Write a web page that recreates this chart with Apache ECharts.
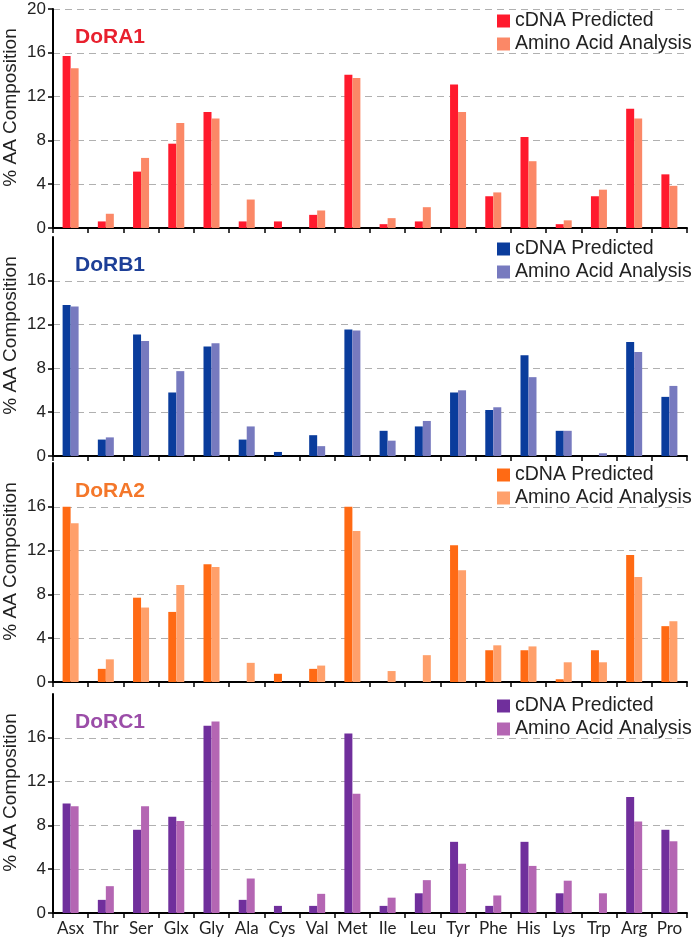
<!DOCTYPE html>
<html>
<head>
<meta charset="utf-8">
<script src="https://cdn.jsdelivr.net/npm/echarts@6/dist/echarts.min.js"></script>
<style>html,body{margin:0;padding:0;background:#fff;}#c{width:693px;height:938px;}</style>
</head>
<body>
<div id="c"></div>
<script>
const categories = ['Asx','Thr','Ser','Glx','Gly','Ala','Cys','Val','Met','Ile','Leu','Tyr','Phe','His','Lys','Trp','Arg','Pro'];
const seriesNames = ['cDNA Predicted', 'Amino Acid Analysis'];
const panelTitles = ['DoRA1', 'DoRB1', 'DoRA2', 'DoRC1'];
const yTicks = [0, 4, 8, 12, 16, 20];
const yTicksLower = [0, 4, 8, 12, 16];

const dora1Cdna = [15.7,0.6,5.15,7.7,10.6,0.6,0.6,1.2,14.0,0.35,0.6,13.1,2.9,8.3,0.35,2.9,10.9,4.9];
const dora1Aaa  = [14.6,1.3,6.4,9.6,10.0,2.6,0,1.6,13.7,0.9,1.9,10.6,3.25,6.1,0.7,3.5,10.0,3.85];
const dorb1Cdna = [13.8,1.5,11.1,5.8,10.0,1.5,0.37,1.9,11.55,2.3,2.7,5.8,4.2,9.2,2.3,0,10.4,5.4];
const dorb1Aaa  = [13.65,1.7,10.5,7.75,10.3,2.7,0,0.9,11.45,1.4,3.2,6.0,4.45,7.2,2.3,0.25,9.5,6.4];
const dora2Cdna = [16.0,1.2,7.7,6.4,10.75,0,0.75,1.2,16.0,0,0,12.5,2.9,2.9,0.25,2.9,11.6,5.1];
const dora2Aaa  = [14.5,2.07,6.8,8.85,10.5,1.75,0,1.5,13.8,1.0,2.45,10.2,3.35,3.25,1.8,1.8,9.6,5.55];
const dorc1Cdna = [10.0,1.2,7.6,8.8,17.1,1.2,0.65,0.65,16.4,0.65,1.8,6.5,0.65,6.5,1.8,0,10.6,7.6];
const dorc1Aaa  = [9.75,2.45,9.75,8.4,17.5,3.15,0,1.75,10.9,1.4,3.0,4.5,1.6,4.3,2.95,1.8,8.35,6.55];

const panelData = [[dora1Cdna, dora1Aaa],[dorb1Cdna, dorb1Aaa],[dora2Cdna, dora2Aaa],[dorc1Cdna, dorc1Aaa]];
const darkColors  = ['#FF1A2D', '#0A3C9C', '#FF6A14', '#702F9C'];
const lightColors = ['#FB8867', '#777ABF', '#FFA06B', '#B466B3'];
const titleColors = ['#E8202E', '#1D3F97', '#F4772A', '#9B4DA8'];

const gridTops = [9, 237, 463, 694];
const gridH = 219;

const grid = [], xAxis = [], yAxis = [], series = [], title = [], legend = [];
for (let i = 0; i < 4; i++) {
  grid.push({left: 53, right: 6, top: gridTops[i], height: gridH, containLabel: false, outerBoundsMode: 'none'});
  xAxis.push({
    type: 'category', gridIndex: i, data: categories,
    axisLine: {lineStyle: {color: '#000', width: 2}},
    axisTick: {show: true, length: 5, lineStyle: {color: '#000', width: 1.5}},
    axisLabel: {show: i === 3, interval: 0, fontFamily: 'Lato', fontSize: 17, color: '#222', margin: 7},
    splitLine: {show: false}
  });
  yAxis.push({
    type: 'value', gridIndex: i, min: 0, max: 20, interval: 4,
    name: '% AA Composition', nameLocation: 'middle', nameGap: 33, nameMoveOverlap: false,
    nameTextStyle: {fontFamily: 'Liberation Sans', fontSize: 19, color: '#222', padding: [0, 0, 0, 22]},
    axisLine: {show: true, lineStyle: {color: '#000', width: 2}},
    axisTick: {show: true, length: 5, lineStyle: {color: '#000', width: 1.5}, customValues: i === 0 ? yTicks : yTicksLower},
    axisLabel: {fontFamily: 'Liberation Sans', fontSize: 17, color: '#222', margin: 7, customValues: i === 0 ? yTicks : yTicksLower},
    splitLine: {show: true, lineStyle: {color: '#B0B0B0', width: 1.2, type: [7, 5]}}
  });
  for (let s = 0; s < 2; s++) {
    series.push({
      name: seriesNames[s], type: 'bar', xAxisIndex: i, yAxisIndex: i,
      data: panelData[i][s], barWidth: 8, barGap: '0%',
      itemStyle: {color: s === 0 ? darkColors[i] : lightColors[i]},
      animation: false
    });
  }
  title.push({
    text: panelTitles[i], left: 70, top: gridTops[i] + 13,
    textStyle: {fontFamily: 'Liberation Sans', fontWeight: 'bold', fontSize: 21, color: titleColors[i]}
  });
  legend.push({
    orient: 'vertical', left: 497, top: gridTops[i] + 2, padding: 0,
    itemWidth: 13, itemHeight: 13, itemGap: 3, itemTextGap: 7,
    textStyle: {fontFamily: 'Liberation Sans', fontSize: 19.5, color: '#222'},
    selectedMode: false,
    data: [
      {name: seriesNames[0], icon: 'rect', itemStyle: {color: darkColors[i]}},
      {name: seriesNames[1], icon: 'rect', itemStyle: {color: lightColors[i]}}
    ]
  });
}

const chart = echarts.init(document.getElementById('c'));
chart.setOption({animation: false, backgroundColor: '#fff', grid, xAxis, yAxis, series, title, legend});
</script>
</body>
</html>
